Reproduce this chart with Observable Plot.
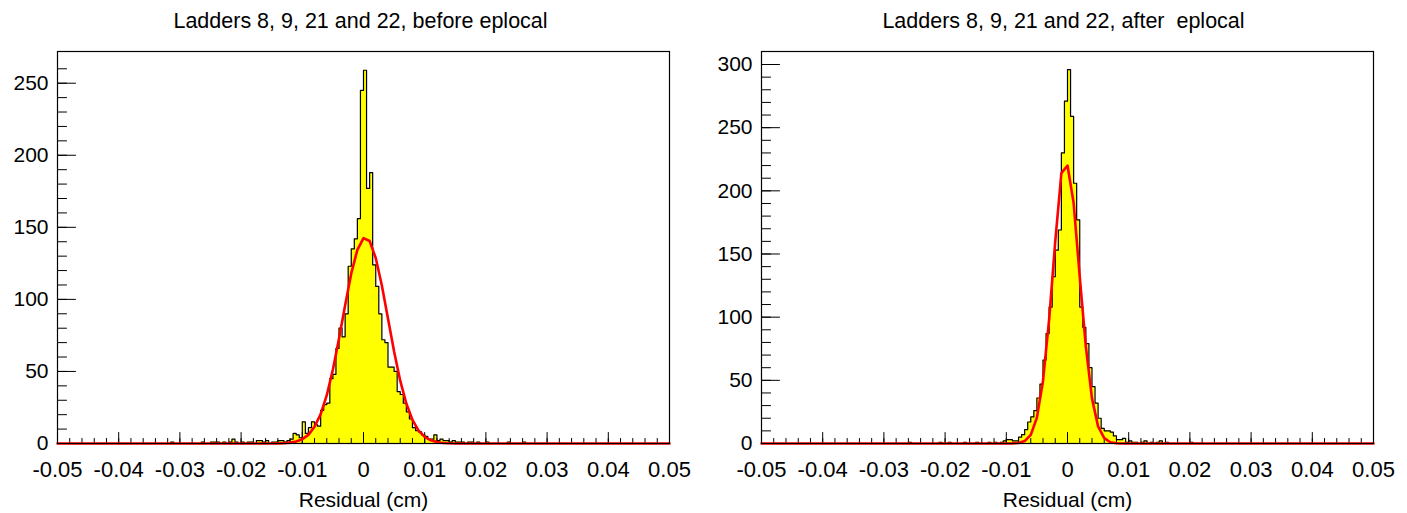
<!DOCTYPE html>
<html><head><meta charset="utf-8">
<script src="https://cdn.jsdelivr.net/npm/d3@7"></script>
<script src="https://cdn.jsdelivr.net/npm/@observablehq/plot@0.6"></script>
<style>
body{margin:0;background:#fff;}
#wrap{display:flex;width:1407px;height:513px;overflow:hidden;}
svg text{white-space:pre;}
</style>
</head><body><div id="wrap"></div>
<script>
// Histogram binning (200 bins from -0.05 to 0.05 cm)
const xMin = -0.05, xMax = 0.05, binWidth = 0.0005;

// Bin counts, before eplocal
const countsBefore = [
0,0,0,0,0,0,0,0,0,0, 0,0,0,0,0,0,0,0,0,0, 0,0,0,0,0,0,0,0,0,0, 0,0,0,0,0,0,0,1,0,0,
0,0,0,0,0,0,0,1,0,0, 1,1,1,0,1,0,1,3,1,0, 1,0,1,1,0,2,2,1,2,0, 1,1,2,2,1,2,3,7,6,4,
15,7,11,15,13,12,23,27,28,45, 48,66,80,74,90,123,135,142,156,245,
259,177,188,124,109,90,72,70,53,53, 50,36,34,28,22,17,11,9,8,6,
5,3,3,6,2,3,2,2,1,2, 1,1,1,0,1,1,0,1,0,0, 1,0,0,0,0,0,0,1,0,0, 0,0,1,0,0,0,0,0,0,0,
0,0,0,0,0,0,0,0,0,0, 0,0,0,0,0,0,0,0,0,0, 0,0,0,0,0,0,0,0,0,0, 0,0,0,0,0,0,0,0,0,0
];
// Bin counts, after eplocal
const countsAfter = [
0,0,0,0,0,0,0,0,0,0, 0,0,0,0,0,0,0,0,0,0, 0,0,0,0,0,0,0,0,0,0, 0,0,0,0,0,0,0,0,0,0,
0,0,0,0,0,0,0,0,1,0, 0,0,0,0,0,0,0,0,1,0, 0,1,0,0,0,0,1,0,0,0, 1,0,0,0,1,0,1,0,1,2,
3,3,2,2,5,7,11,17,21,26, 36,47,66,87,108,132,153,169,230,271,
296,259,206,177,108,92,79,60,45,32, 20,12,10,10,9,6,3,3,4,1,
2,1,1,0,1,2,0,1,0,1, 2,0,1,0,0,0,0,0,0,0, 1,0,0,0,0,0,0,0,0,0, 0,0,0,0,0,0,0,0,0,0,
0,0,0,0,0,0,0,0,0,0, 0,0,0,0,0,0,0,0,0,0, 0,0,0,0,0,0,0,0,0,0, 0,0,0,0,0,0,0,0,0,0
];

// Gaussian fit curves
const fitXBefore = [-0.05,-0.015,-0.014,-0.013,-0.012,-0.011,-0.010,-0.009,-0.008,-0.007,-0.006,-0.005,-0.004,-0.003,-0.002,-0.001,0,0.001,0.002,0.003,0.004,0.005,0.006,0.007,0.008,0.009,0.010,0.011,0.012,0.013,0.014,0.015,0.05];
const fitYBefore = [0,0,0.1,0.2,0.6,1.4,3,6,11.6,20.4,33.5,51.3,72.8,96,118,134.4,142.5,140.5,128.7,109.6,86.7,63.8,43.6,27.7,16.4,9,4.6,2.2,1,0.4,0.15,0,0];
const fitXAfter = [-0.05,-0.010,-0.009,-0.008,-0.007,-0.006,-0.005,-0.004,-0.003,-0.002,-0.001,0,0.001,0.002,0.003,0.004,0.005,0.006,0.007,0.008,0.009,0.05];
const fitYAfter = [0,0,0.1,0.4,1.9,6.8,20.5,49.7,98.3,160,214,220,190.5,132,76.7,35.7,13.5,4.2,1,0.2,0,0];

// Axis ticks and labels
const xTickLabels = [-0.05,-0.04,-0.03,-0.02,-0.01,0,0.01,0.02,0.03,0.04,0.05];
const xMinorStep = 0.002;
const yTicksBefore = [0,50,100,150,200,250];
const yTicksAfter = [0,50,100,150,200,250,300];
const yMaxBefore = 272, yMaxAfter = 310.3;
const titleBefore = "Ladders 8, 9, 21 and 22, before eplocal";
const titleAfter = "Ladders 8, 9, 21 and 22, after  eplocal";
const xLabel = "Residual (cm)";

const tickShape = {draw(ctx, l){ ctx.moveTo(0,0); ctx.lineTo(0,-l); }};
const FONT = "'Liberation Sans', Arial, Helvetica, sans-serif";

function panel({counts, fitX, fitY, yMax, yTicks, title, width, marginLeft, titleDx}) {
  const steps = counts.map((c,i) => ({x: xMin + i*binWidth, y: c}));
  steps.push({x: xMax, y: counts[counts.length-1]});
  const fit = fitX.map((x,i) => ({x, y: fitY[i]}));
  const xMinor = d3.range(Math.round((xMax-xMin)/xMinorStep)+1).map(i => +(xMin + i*xMinorStep).toFixed(4));
  const yMinor = d3.range(0, yMax - 5, 10);
  return Plot.plot({
    width, height: 513, marginTop: 51, marginBottom: 70, marginLeft, marginRight: 34,
    style: {fontFamily: FONT, background: "white", color: "black"},
    x: {domain: [xMin, xMax]},
    y: {domain: [0, yMax]},
    marks: [
      Plot.areaY(steps, {x: "x", y: "y", curve: "step-after", fill: "#ffff00"}),
      Plot.lineY(steps, {x: "x", y: "y", curve: "step-after", stroke: "black", strokeWidth: 1.2}),
      Plot.vector(xMinor, {x: d => d, frameAnchor: "bottom", anchor: "start", rotate: 0, length: 5, shape: tickShape, stroke: "black", strokeWidth: 1}),
      Plot.vector(xTickLabels, {x: d => d, frameAnchor: "bottom", anchor: "start", rotate: 0, length: 11, shape: tickShape, stroke: "black", strokeWidth: 1}),
      Plot.vector(yMinor, {y: d => d, frameAnchor: "left", anchor: "start", rotate: 90, length: 9, shape: tickShape, stroke: "black", strokeWidth: 1}),
      Plot.vector(yTicks, {y: d => d, frameAnchor: "left", anchor: "start", rotate: 90, length: 18, shape: tickShape, stroke: "black", strokeWidth: 1}),
      Plot.line(fit, {x: "x", y: "y", stroke: "#ff0000", strokeWidth: 2.6}),
      Plot.frame({stroke: "black", strokeWidth: 1.2}),
      Plot.axisX({ticks: xTickLabels, tickSize: 0, tickPadding: 18, fontSize: 22, tickFormat: d => String(+d.toFixed(2)), label: null}),
      Plot.axisY({ticks: yTicks, tickSize: 0, tickPadding: 9, fontSize: 21, label: null}),
      Plot.text([xLabel], {frameAnchor: "bottom", dy: 57, lineAnchor: "middle", fontSize: 21}),
      Plot.text([title], {frameAnchor: "top", dy: -30, dx: titleDx, lineAnchor: "middle", fontSize: 21.5})
    ]
  });
}

const wrap = document.getElementById("wrap");
wrap.append(panel({counts: countsBefore, fitX: fitXBefore, fitY: fitYBefore, yMax: yMaxBefore, yTicks: yTicksBefore, title: titleBefore, width: 703, marginLeft: 57, titleDx: -3}));
wrap.append(panel({counts: countsAfter, fitX: fitXAfter, fitY: fitYAfter, yMax: yMaxAfter, yTicks: yTicksAfter, title: titleAfter, width: 704, marginLeft: 58, titleDx: -4}));
</script>
</body></html>
